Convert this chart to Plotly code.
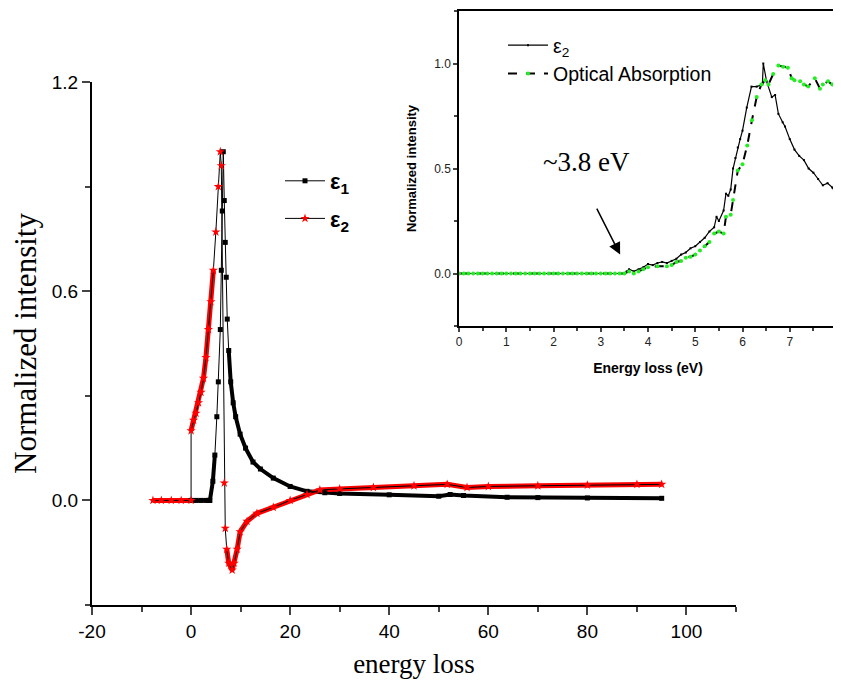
import plotly.graph_objects as go

# ---------------- main panel data ----------------
eps1_x = [0, 1, 2, 3, 3.6, 3.8, 4.4, 4.8, 5.2, 5.5, 5.9, 6.1, 6.3, 6.5, 6.7, 6.9, 7.1, 7.3,
          7.6, 8.0, 8.5, 9.0, 9.9, 11, 12.5, 14, 16.6, 20, 23.4, 27, 30, 40, 50, 52.3, 55,
          63.8, 70, 80, 95]
eps1_y = [0, 0, 0, 0, 0, 0, 0.055, 0.13, 0.24, 0.34, 0.49, 0.66, 0.83, 1.0, 0.86, 0.74,
          0.64, 0.52, 0.43, 0.34, 0.28, 0.24, 0.19, 0.15, 0.11, 0.09, 0.064, 0.04, 0.026,
          0.022, 0.02, 0.016, 0.012, 0.017, 0.014, 0.009, 0.008, 0.007, 0.006]

eps2_x = [-7.7, -6, -4, -2, 0, 0, 0.5, 1, 1.5, 2, 2.5, 3, 3.5, 4, 4.5, 5, 5.5, 5.9, 6.1,
          6.7, 6.9, 7.2, 7.6, 8.3, 8.7, 9.3, 9.9, 11.3, 13.3, 16.6, 20, 23.4, 26, 30, 36.8,
          45, 51.7, 55.7, 60, 70, 80, 90, 95]
eps2_y = [0, 0, 0, 0, 0, 0.2, 0.23, 0.25, 0.28, 0.31, 0.35, 0.41, 0.49, 0.57, 0.66, 0.77,
          0.9, 1.0, 0.96, 0.05, -0.08, -0.14, -0.18, -0.2, -0.18, -0.14, -0.09, -0.06,
          -0.037, -0.02, 0.0, 0.017, 0.03, 0.033, 0.037, 0.042, 0.046, 0.037, 0.04, 0.042,
          0.044, 0.046, 0.046]

main_xticks = [-20, 0, 20, 40, 60, 80, 100]
main_yticks = [0.0, 0.6, 1.2]

# ---------------- inset data ----------------
flat_x = [0.0, 0.1, 0.2, 0.3, 0.4, 0.5, 0.6, 0.7, 0.8, 0.9, 1.0, 1.1, 1.2, 1.3, 1.4, 1.5,
          1.6, 1.7, 1.8, 1.9, 2.0, 2.1, 2.2, 2.3, 2.4, 2.5, 2.6, 2.7, 2.8, 2.9, 3.0, 3.1,
          3.2, 3.3, 3.4, 3.5]
flat_y = [0.0] * len(flat_x)

ins_e2_x = [3.55, 3.6, 3.7, 3.8, 3.9, 4.0, 4.1, 4.2, 4.3, 4.4, 4.5, 4.6, 4.7, 4.8, 4.9,
            5.0, 5.1, 5.2, 5.3, 5.4, 5.45, 5.5, 5.6, 5.65, 5.7, 5.75, 5.8, 5.85, 5.9,
            5.95, 6.0, 6.09, 6.19, 6.3, 6.42, 6.44, 6.51, 6.62, 6.69, 6.76, 6.85, 6.9,
            7.0, 7.1, 7.2, 7.3, 7.4, 7.5, 7.6, 7.7, 7.8, 7.9, 8.0]
ins_e2_y = [0.01, 0.02, 0.01, 0.02, 0.03, 0.045, 0.04, 0.05, 0.055, 0.05, 0.06, 0.07,
            0.09, 0.1, 0.12, 0.13, 0.15, 0.17, 0.2, 0.22, 0.27, 0.25, 0.3, 0.38, 0.37,
            0.4, 0.5, 0.55, 0.6, 0.64, 0.68, 0.79, 0.89, 0.89, 0.9, 1.0, 0.915, 0.84,
            0.85, 0.76, 0.72, 0.7, 0.64, 0.59, 0.56, 0.54, 0.5, 0.48, 0.45, 0.42, 0.43,
            0.41, 0.37]

ins_oa_x = [3.6, 3.7, 3.8, 3.9, 4.0, 4.2, 4.4, 4.5, 4.6, 4.7, 4.8, 4.9, 5.0, 5.1, 5.2,
            5.3, 5.4, 5.5, 5.6, 5.65, 5.75, 5.8, 5.9, 6.0, 6.1, 6.2, 6.3, 6.4, 6.48,
            6.55, 6.65, 6.76, 6.86, 6.96, 7.04, 7.1, 7.22, 7.3, 7.39, 7.53, 7.64, 7.7,
            7.81, 7.9, 8.0]
ins_oa_y = [0.01, 0.0, 0.01, 0.02, 0.03, 0.035, 0.035, 0.04, 0.055, 0.06, 0.075, 0.08,
            0.09, 0.11, 0.13, 0.15, 0.19, 0.2, 0.19, 0.27, 0.28, 0.35, 0.49, 0.52, 0.61,
            0.73, 0.84, 0.9, 0.92, 0.9, 0.95, 0.99, 0.985, 0.98, 0.93, 0.92, 0.915, 0.9,
            0.89, 0.93, 0.88, 0.9, 0.915, 0.9, 0.915]

inset_xticks = [0, 1, 2, 3, 4, 5, 6, 7, 8]
inset_yticks = [0.0, 0.5, 1.0]

SERIF = "Times New Roman, Liberation Serif, serif"
SANS = "Arial, Liberation Sans, sans-serif"

# the page body adds an 8px margin; layout below is given in window pixels
OFF = 8
W, H = 841 - OFF, 682 - OFF


def px(x):
    return (x - OFF) / W


def py(y):
    return 1 - (y - OFF) / H


def flat_parts(xs, ys, thr):
    """Keep only gently sloped stretches (where the dense markers merge into a band)."""
    ox, oy = [xs[0]], [ys[0]]
    for i in range(1, len(xs)):
        dx = xs[i] - xs[i - 1]
        dy = ys[i] - ys[i - 1]
        if dx <= 0 or abs(dy) / dx > thr:
            ox.append(None)
            oy.append(None)
        ox.append(xs[i])
        oy.append(ys[i])
    return ox, oy


fig = go.Figure()

# dense-marker bands
bx, by = flat_parts(eps1_x, eps1_y, 0.25)
fig.add_trace(go.Scatter(x=bx, y=by, mode="lines", line=dict(color="black", width=4),
                         showlegend=False, hoverinfo="skip"))
rx, ry = flat_parts(eps2_x, eps2_y, 0.2)
fig.add_trace(go.Scatter(x=rx, y=ry, mode="lines", line=dict(color="red", width=5),
                         showlegend=False, hoverinfo="skip"))

fig.add_trace(go.Scatter(x=eps1_x, y=eps1_y, mode="lines+markers", name="<b>ε<sub>1</sub></b>",
                         legendgroup="a",
                         line=dict(color="black", width=1),
                         marker=dict(symbol="square", size=5, color="black")))
fig.add_trace(go.Scatter(x=eps2_x, y=eps2_y, mode="lines+markers", name="<b>ε<sub>2</sub></b>",
                         legendgroup="b",
                         line=dict(color="black", width=1),
                         marker=dict(symbol="star", size=7, color="red", line=dict(width=0))))

# inset
fig.add_trace(go.Scatter(x=flat_x + ins_e2_x, y=flat_y + ins_e2_y, mode="lines+markers",
                         name="ε<sub>2</sub>", xaxis="x2", yaxis="y2", legend="legend2",
                         line=dict(color="black", width=1.2),
                         marker=dict(symbol="square", size=2, color="black")))
fig.add_trace(go.Scatter(x=flat_x + ins_oa_x, y=flat_y + ins_oa_y, mode="lines+markers",
                         name="Optical Absorption", xaxis="x2", yaxis="y2", legend="legend2",
                         line=dict(color="black", width=2, dash="dash"),
                         marker=dict(symbol="circle", size=4, color="#22ee22")))

fig.update_layout(
    width=W, height=H,
    margin=dict(l=0, r=0, t=0, b=0),
    paper_bgcolor="white", plot_bgcolor="white",
    xaxis=dict(domain=[px(92), px(736)], range=[-20, 110], tickvals=main_xticks,
               ticktext=[str(v) for v in main_xticks], automargin=False,
               ticks="outside", ticklen=8, tickwidth=2, showline=True, linewidth=2,
               linecolor="black", showgrid=False, zeroline=False,
               minor=dict(dtick=10, tick0=0, ticks="outside", ticklen=5, tickwidth=2),
               tickfont=dict(family=SANS, size=19, color="black"),
               title=dict(text="energy loss", standoff=13,
                          font=dict(family=SERIF, size=27, color="black"))),
    yaxis=dict(domain=[py(605), py(82)], range=[-0.3, 1.2], tickvals=main_yticks,
               ticktext=["%.1f" % v for v in main_yticks], automargin=False,
               ticks="outside", ticklen=8, tickwidth=2, showline=True,
               linewidth=2, linecolor="black", showgrid=False, zeroline=False,
               minor=dict(dtick=0.3, tick0=0, ticks="outside", ticklen=5, tickwidth=2),
               tickfont=dict(family=SANS, size=19, color="black"),
               title=dict(text="Normalized intensity", standoff=8,
                          font=dict(family=SERIF, size=31, color="black"))),
    xaxis2=dict(domain=[px(459), px(837)], anchor="y2", range=[0, 8],
                tickvals=inset_xticks, automargin=False, ticks="outside", ticklen=4,
                tickwidth=1.5, showline=True, mirror=True, linewidth=1.5, linecolor="black",
                showgrid=False, zeroline=False,
                minor=dict(dtick=0.5, tick0=0, ticks="outside", ticklen=3, tickwidth=1.5),
                tickfont=dict(family=SANS, size=12, color="#222"),
                title=dict(text="<b>Energy loss (eV)</b>",
                           font=dict(family=SANS, size=14, color="black"))),
    yaxis2=dict(domain=[py(326), py(11)], anchor="x2", range=[-0.25, 1.25],
                tickvals=inset_yticks, ticktext=["%.1f" % v for v in inset_yticks],
                automargin=False, ticks="outside", ticklen=4,
                tickwidth=1.5, showline=True, mirror=True, linewidth=1.5,
                linecolor="black", showgrid=False, zeroline=False,
                minor=dict(dtick=0.25, tick0=0, ticks="outside", ticklen=3, tickwidth=1.5),
                tickfont=dict(family=SANS, size=12, color="#222"),
                title=dict(text="<b>Normalized intensity</b>",
                           font=dict(family=SANS, size=13, color="black"))),
    legend=dict(x=px(280), y=py(160), xanchor="left", yanchor="top",
                bgcolor="rgba(0,0,0,0)", font=dict(family=SANS, size=22, color="black"),
                itemwidth=40, tracegroupgap=6),
    legend2=dict(x=px(503), y=py(26), xanchor="left", yanchor="top",
                 bgcolor="rgba(0,0,0,0)", font=dict(family=SANS, size=19.5, color="black"),
                 itemwidth=40),
    annotations=[
        dict(text="~3.8 eV", x=2.69, y=0.53, xref="x2", yref="y2", showarrow=False,
             font=dict(family=SERIF, size=27, color="black")),
        dict(text="", x=3.41, y=0.09, ax=2.9, ay=0.316, xref="x2", yref="y2",
             axref="x2", ayref="y2", showarrow=True, arrowhead=2, arrowsize=1.6,
             arrowwidth=1.5, arrowcolor="black"),
    ],
)

fig.write_html("out.html")
